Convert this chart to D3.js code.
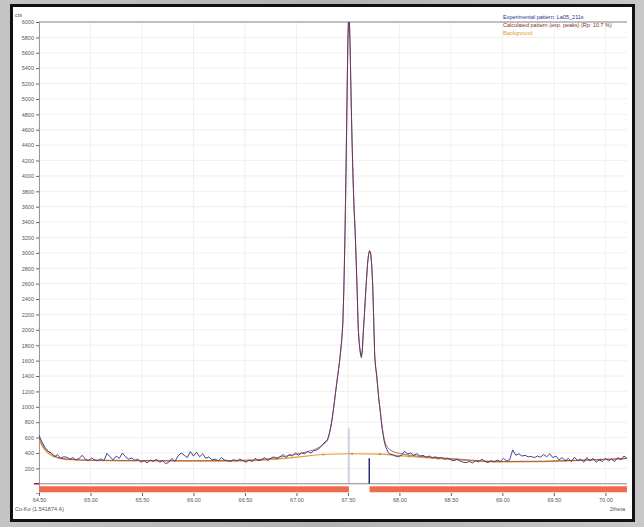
<!DOCTYPE html>
<html>
<head>
<meta charset="utf-8">
<script src="https://cdn.jsdelivr.net/npm/d3@7"></script>
<style>
  html, body { margin: 0; padding: 0; }
  body { width: 644px; height: 527px; overflow: hidden; background: #bcbcbc; }
  text { font-family: "Liberation Sans", Arial, sans-serif; }
</style>
</head>
<body>
<div id="chart"></div>
<script>
// two-theta / counts
const expTheta = [
  64.50, 64.53, 64.56, 64.59, 64.62, 64.65, 64.68, 64.71, 64.74, 64.77, 64.80, 64.83, 64.86, 64.89, 64.92, 64.95, 64.98,
  65.01, 65.04, 65.07, 65.10, 65.13, 65.16, 65.19, 65.22, 65.25, 65.28, 65.31, 65.34, 65.37, 65.40, 65.43, 65.46, 65.49,
  65.52, 65.55, 65.58, 65.61, 65.64, 65.67, 65.70, 65.73, 65.76, 65.79, 65.82, 65.85, 65.88, 65.91, 65.94, 65.97,
  66.00, 66.03, 66.06, 66.09, 66.12, 66.15, 66.18, 66.21, 66.24, 66.27, 66.30, 66.33, 66.36, 66.39, 66.42, 66.45, 66.48,
  66.51, 66.54, 66.57, 66.60, 66.63, 66.66, 66.69, 66.72, 66.75, 66.78, 66.81, 66.84, 66.87, 66.90, 66.93, 66.96, 66.99,
  67.02, 67.05, 67.08, 67.11, 67.14, 67.17, 67.20, 67.23, 67.26,
  67.30, 67.31, 67.32, 67.33, 67.34, 67.35, 67.36, 67.37, 67.38, 67.39, 67.40, 67.41, 67.42, 67.43, 67.44, 67.45,
  67.46, 67.47, 67.48, 67.49, 67.50, 67.51, 67.52, 67.53, 67.54, 67.55, 67.56, 67.57, 67.58, 67.59, 67.60,
  67.61, 67.62, 67.63, 67.64, 67.65, 67.66, 67.67, 67.68, 67.69, 67.70, 67.71, 67.72, 67.73, 67.74, 67.75,
  67.76, 67.77, 67.78, 67.79, 67.80, 67.81, 67.82, 67.83, 67.84, 67.85, 67.86, 67.87, 67.88, 67.89, 67.90,
  67.93, 67.96, 67.99, 68.02, 68.05, 68.08, 68.11, 68.14, 68.17, 68.20, 68.23, 68.26, 68.29, 68.32, 68.35, 68.38,
  68.41, 68.44, 68.47, 68.50, 68.53, 68.56, 68.59, 68.62, 68.65, 68.68, 68.71, 68.74, 68.77, 68.80, 68.83, 68.86,
  68.89, 68.92, 68.95, 68.98, 69.01, 69.04, 69.07, 69.10, 69.13, 69.16, 69.19, 69.22, 69.25, 69.28, 69.31, 69.34,
  69.37, 69.40, 69.43, 69.46, 69.49, 69.52, 69.55, 69.58, 69.61, 69.64, 69.67, 69.70, 69.73, 69.76, 69.79, 69.82,
  69.85, 69.88, 69.91, 69.94, 69.97, 70.00, 70.03, 70.06, 70.09, 70.12, 70.15, 70.18, 70.21
];
const expCounts = [
  630, 540, 470, 420, 400, 350, 380, 330, 350, 345, 320, 340, 310, 330, 370, 320, 300,
  335, 310, 300, 325, 300, 395, 350, 310, 360, 330, 400, 350, 320, 335, 305, 320, 280,
  300, 270, 310, 290, 320, 280, 300, 260, 280, 330, 290, 360, 400, 370, 340, 420,
  360, 410, 350, 390, 330, 350, 310, 320, 300, 340, 310, 300, 290, 315, 295, 320, 300,
  280, 310, 290, 330, 300, 310, 340, 300, 330, 350, 320, 350, 380, 340, 380, 360, 400,
  370, 400, 390, 420, 400, 430, 440, 470, 520,
  570, 610, 660, 720, 790, 880, 980, 1080, 1190, 1300, 1400, 1500, 1610, 1740, 1880, 2080,
  2520, 3150, 3950, 4900, 5800, 6150, 5750, 5050, 4450, 3950, 3560, 3280, 2900, 2480, 2020,
  1820, 1700, 1640, 1740, 1990, 2200, 2440, 2650, 2850, 2980, 3030, 3000, 2860, 2600, 2150,
  1660, 1500, 1390, 1240, 1090, 990, 860, 740, 650, 570, 510, 470, 440, 410, 390,
  380, 360, 350, 370, 420, 390, 400, 370, 390, 360, 370, 345, 360, 335, 350, 330,
  340, 320, 330, 310, 300, 320, 295, 280, 275, 290, 270, 300, 285, 320, 290, 275,
  300, 285, 305, 290, 330, 300, 310, 440, 370, 390, 360, 370, 350, 355, 340, 360,
  345, 380, 350, 390, 340, 360, 310, 340, 300, 330, 290, 345, 300, 320, 280, 340,
  295, 330, 280, 310, 290, 330, 300, 320, 290, 340, 310, 360, 330
];

const calcTheta = [
  64.50, 64.55, 64.60, 64.65, 64.70, 64.80, 65.00, 65.50, 66.00, 66.40, 66.70, 66.90, 67.00, 67.10, 67.20, 67.26,
  67.30, 67.32, 67.34, 67.36, 67.38, 67.40, 67.42, 67.44, 67.45, 67.46, 67.47, 67.48, 67.49, 67.50, 67.51,
  67.52, 67.53, 67.54, 67.55, 67.56, 67.57, 67.58, 67.59, 67.60, 67.61, 67.62, 67.63, 67.64, 67.65, 67.66,
  67.67, 67.68, 67.69, 67.70, 67.71, 67.72, 67.73, 67.74, 67.75, 67.76, 67.78, 67.80, 67.82, 67.84, 67.86,
  67.88, 67.90, 67.93, 68.00, 68.10, 68.20, 68.40, 68.60, 68.80, 69.00, 69.40, 69.70, 70.00, 70.21
];
const calcCounts = [
  600, 470, 410, 365, 335, 318, 308, 302, 300, 303, 322, 360, 385, 415, 460, 510,
  560, 650, 780, 970, 1180, 1390, 1600, 1870, 2060, 2500, 3120, 3920, 4880, 5780, 6120,
  5760, 5080, 4460, 3960, 3570, 3290, 2910, 2490, 2040, 1840, 1720, 1660, 1750, 1980, 2190,
  2430, 2640, 2840, 2970, 3020, 2990, 2850, 2590, 2140, 1680, 1410, 1110, 880, 670, 540,
  480, 450, 425, 395, 372, 356, 338, 318, 298, 290, 294, 304, 318, 330
];

const bgTheta = [
  64.50, 64.54, 64.58, 64.63, 64.70, 64.80, 65.00, 65.50, 66.00, 66.40, 66.60, 66.80, 67.00, 67.26,
  67.54, 67.81, 68.00, 68.20, 68.50, 68.80, 69.00, 69.40, 69.70, 70.00, 70.21
];
const bgCounts = [
  570, 470, 410, 360, 330, 312, 302, 296, 294, 294, 300, 320, 345, 380,
  390, 385, 365, 345, 315, 292, 285, 288, 300, 315, 328
];
const bgMarkers = [67.26, 67.54, 67.81, 68.09, 68.37, 69.61, 69.95];

// peak position markers and the excluded-region bar
const peakTheta = [67.51, 67.707];
const peakHeight = [720, 330];
const barSegments = [[64.50, 67.51], [67.71, 70.21]];

const xTicks = [64.5, 65.0, 65.5, 66.0, 66.5, 67.0, 67.5, 68.0, 68.5, 69.0, 69.5, 70.0];
const yTicks = d3.range(200, 6001, 200);

const legendLabels = [
  "Experimental pattern: La05_211s",
  "Calculated pattern (exp. peaks) (Rp: 10.7 %)",
  "Background"
];
const legendColors = ["#2a3090", "#8a2c2c", "#e0a030"];

const width = 644, height = 527;
const m = { left: 39, right: 627, top: 22, bottom: 493 };

const svg = d3.select("#chart").append("svg")
  .attr("width", width)
  .attr("height", height);

const defs = svg.append("defs");
const grad = defs.append("linearGradient").attr("id", "bg").attr("x1", 0).attr("x2", 1);
grad.append("stop").attr("offset", "0%").attr("stop-color", "#c4c4c4");
grad.append("stop").attr("offset", "50%").attr("stop-color", "#b2b2b2");
grad.append("stop").attr("offset", "100%").attr("stop-color", "#c8c8c8");
defs.append("clipPath").attr("id", "plotclip")
  .append("rect").attr("x", m.left).attr("y", m.top)
  .attr("width", m.right - m.left).attr("height", m.bottom - m.top);

svg.append("rect").attr("width", width).attr("height", height).attr("fill", "url(#bg)");
svg.append("rect")
  .attr("x", 11.5).attr("y", 5.5).attr("width", 622).attr("height", 515)
  .attr("fill", "#fff").attr("stroke", "#111").attr("stroke-width", 3);

const x = d3.scaleLinear().domain([64.5, 70.21]).range([m.left, m.right]);
const y = d3.scaleLinear().domain([-120, 6000]).range([m.bottom, m.top]);

// grid
svg.append("g").selectAll("line").data(yTicks).join("line")
  .attr("x1", m.left).attr("x2", m.right)
  .attr("y1", d => y(d)).attr("y2", d => y(d))
  .attr("stroke", "#ececec").attr("stroke-width", 0.8);
svg.append("g").selectAll("line").data(xTicks).join("line")
  .attr("x1", d => x(d)).attr("x2", d => x(d))
  .attr("y1", m.top).attr("y2", y(0))
  .attr("stroke", "#ececec").attr("stroke-width", 0.8);

// axes
const yAxis = d3.axisLeft(y).tickValues(yTicks).tickSize(3).tickPadding(2).tickFormat(d3.format("d"));
const gy = svg.append("g").attr("transform", `translate(${m.left},0)`).call(yAxis);
gy.select(".domain").attr("stroke", "#999");
gy.selectAll(".tick line").attr("stroke", "#666");
gy.selectAll("text").attr("font-size", 5.5).attr("fill", "#555");

const xAxis = d3.axisBottom(x).tickValues(xTicks).tickSize(3).tickPadding(2).tickFormat(d3.format(".2f"));
const gx = svg.append("g").attr("transform", `translate(0,${m.bottom})`).call(xAxis);
gx.select(".domain").remove();
gx.selectAll(".tick line").attr("stroke", "#666");
gx.selectAll("text").attr("font-size", 5.5).attr("fill", "#555");

svg.append("line").attr("x1", m.left).attr("x2", m.right).attr("y1", m.top).attr("y2", m.top)
  .attr("stroke", "#888").attr("stroke-width", 1);
svg.append("line").attr("x1", m.left).attr("x2", m.right).attr("y1", y(0)).attr("y2", y(0))
  .attr("stroke", "#8a8a9a").attr("stroke-width", 1);
svg.append("line").attr("x1", m.left - 5).attr("x2", m.left).attr("y1", y(0)).attr("y2", y(0))
  .attr("stroke", "#a02020").attr("stroke-width", 1.5);

// excluded region bar
svg.append("g").selectAll("rect").data(barSegments).join("rect")
  .attr("x", d => x(d[0])).attr("width", d => x(d[1]) - x(d[0]))
  .attr("y", y(0) + 2.5).attr("height", 6)
  .attr("fill", "#f06a4c");

const plot = svg.append("g").attr("clip-path", "url(#plotclip)");

// background
const bgData = bgTheta.map((t, i) => [t, bgCounts[i]]);
plot.append("path").datum(bgData)
  .attr("d", d3.line().x(d => x(d[0])).y(d => y(d[1])).curve(d3.curveMonotoneX))
  .attr("fill", "none").attr("stroke", legendColors[2]).attr("stroke-width", 1.2);
const bgAt = t => {
  const i = d3.bisectLeft(bgTheta, t);
  const t0 = bgTheta[i - 1], t1 = bgTheta[i];
  return bgCounts[i - 1] + (bgCounts[i] - bgCounts[i - 1]) * (t - t0) / (t1 - t0);
};
plot.append("g").selectAll("circle").data(bgMarkers).join("circle")
  .attr("cx", d => x(d)).attr("cy", d => y(bgAt(d))).attr("r", 1.1)
  .attr("fill", "#d08a20");

// peak markers
plot.append("g").selectAll("line").data(peakTheta).join("line")
  .attr("x1", d => x(d)).attr("x2", d => x(d))
  .attr("y1", (d, i) => y(peakHeight[i])).attr("y2", y(0))
  .attr("stroke", (d, i) => i === 0 ? "#9a9ac0" : "#1e2470")
  .attr("stroke-width", (d, i) => i === 0 ? 0.8 : 1.4);

// experimental and calculated
const expData = expTheta.map((t, i) => [t, expCounts[i]]);
const calcData = calcTheta.map((t, i) => [t, calcCounts[i]]);
plot.append("path").datum(expData)
  .attr("d", d3.line().x(d => x(d[0])).y(d => y(d[1])))
  .attr("fill", "none").attr("stroke", legendColors[0]).attr("stroke-width", 0.9);
plot.append("path").datum(calcData)
  .attr("d", d3.line().x(d => x(d[0])).y(d => y(d[1])).curve(d3.curveMonotoneX))
  .attr("fill", "none").attr("stroke", legendColors[1]).attr("stroke-width", 0.9)
  .attr("stroke-opacity", 0.75);

// labels
svg.append("text").attr("x", 15).attr("y", 17).attr("font-size", 5.5).attr("fill", "#555").text("cts");
svg.append("text").attr("x", 15).attr("y", 511).attr("font-size", 5.5).attr("fill", "#555").text("Cu-Kα (1.541874 A)");
svg.append("text").attr("x", 625).attr("y", 511).attr("text-anchor", "end").attr("font-size", 5.5).attr("fill", "#555").text("2theta");

svg.append("g").selectAll("text").data(legendLabels).join("text")
  .attr("x", 503).attr("y", (d, i) => 19 + i * 8)
  .attr("font-size", 5.5)
  .attr("fill", (d, i) => legendColors[i])
  .text(d => d);
</script>
</body>
</html>
